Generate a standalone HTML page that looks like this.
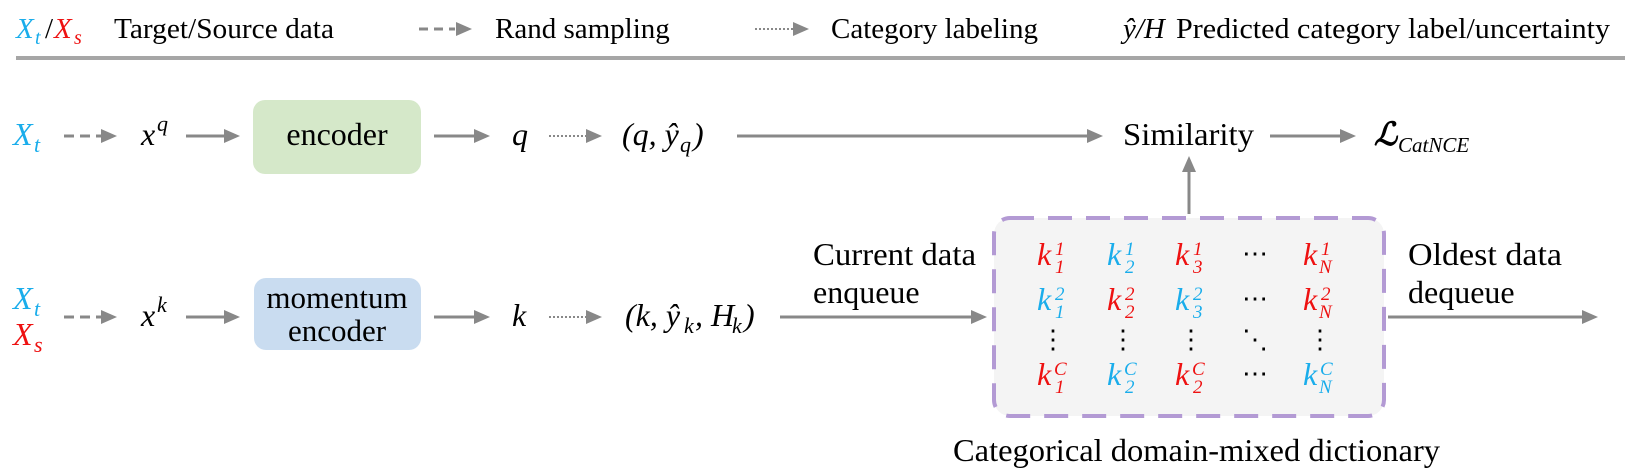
<!DOCTYPE html>
<html><head><meta charset="utf-8"><style>
html,body{margin:0;padding:0;background:#fff;}
svg{display:block;}
text{font-family:"Liberation Serif",serif;fill:#000;}
.m{font-style:italic;}
.b{fill:#1aadeb;}
.r{fill:#ee1111;}
</style></head><body>
<svg width="1630" height="474" viewBox="0 0 1630 474" xmlns="http://www.w3.org/2000/svg">
<!-- legend -->
<text x="16" y="38" font-size="29" class="m b">X</text>
<text x="35" y="44" font-size="20" class="m b">t</text>
<text x="45" y="38" font-size="29">/</text>
<text x="54" y="38" font-size="29" class="m r">X</text>
<text x="74" y="44" font-size="20" class="m r">s</text>
<text x="114" y="38" font-size="29" textLength="220" lengthAdjust="spacingAndGlyphs">Target/Source data</text>
<line x1="419" y1="29" x2="455" y2="29" stroke="#888" stroke-width="3" stroke-dasharray="9,6"/>
<polygon points="456,22 472,29 456,36" fill="#888"/>
<text x="495" y="38" font-size="29">Rand sampling</text>
<line x1="755" y1="29" x2="793" y2="29" stroke="#888" stroke-width="2" stroke-dasharray="2,2"/>
<polygon points="793,22 809,29 793,36" fill="#888"/>
<text x="831" y="38" font-size="29" textLength="207" lengthAdjust="spacingAndGlyphs">Category labeling</text>
<text x="1123" y="38" font-size="29" class="m">ŷ/H</text>
<text x="1176" y="38" font-size="29" textLength="434" lengthAdjust="spacingAndGlyphs">Predicted category label/uncertainty</text>
<line x1="16" y1="58" x2="1625" y2="58" stroke="#a6a6a6" stroke-width="4"/>

<!-- row 1 -->
<text x="13" y="145" font-size="32" class="m b">X</text>
<text x="34" y="152" font-size="22" class="m b">t</text>
<line x1="64" y1="136" x2="101" y2="136" stroke="#888" stroke-width="3" stroke-dasharray="10,6"/>
<polygon points="101,129 117,136 101,143" fill="#888"/>
<text x="141" y="145" font-size="32" class="m">x</text>
<text x="157" y="131" font-size="22" class="m">q</text>
<line x1="186" y1="136" x2="225" y2="136" stroke="#888" stroke-width="3"/>
<polygon points="224,129 240,136 224,143" fill="#888"/>
<rect x="253" y="100" width="168" height="74" rx="12" fill="#d5e8c9"/>
<text x="337" y="145" font-size="32" text-anchor="middle">encoder</text>
<line x1="434" y1="136" x2="474" y2="136" stroke="#888" stroke-width="3"/>
<polygon points="474,129 490,136 474,143" fill="#888"/>
<text x="512" y="145" font-size="32" class="m">q</text>
<line x1="549" y1="136" x2="587" y2="136" stroke="#888" stroke-width="2" stroke-dasharray="2,2"/>
<polygon points="586,129 602,136 586,143" fill="#888"/>
<text x="622" y="145" font-size="32" class="m">(q, ŷ</text>
<text x="680" y="152" font-size="22" class="m">q</text>
<text x="693" y="145" font-size="32" class="m">)</text>
<line x1="737" y1="136" x2="1089" y2="136" stroke="#888" stroke-width="3"/>
<polygon points="1087,129 1103,136 1087,143" fill="#888"/>
<text x="1123" y="145" font-size="32" textLength="131" lengthAdjust="spacingAndGlyphs">Similarity</text>
<line x1="1270" y1="136" x2="1342" y2="136" stroke="#888" stroke-width="3"/>
<polygon points="1340,129 1356,136 1340,143" fill="#888"/>
<text x="1374" y="145" font-size="32" font-weight="bold" class="m">ℒ</text>
<text x="1398" y="152" font-size="21" class="m">CatNCE</text>
<line x1="1189" y1="214" x2="1189" y2="170" stroke="#888" stroke-width="3"/>
<polygon points="1182,172 1189,156 1196,172" fill="#888"/>

<!-- row 2 -->
<text x="13" y="309" font-size="32" class="m b">X</text>
<text x="34" y="316" font-size="22" class="m b">t</text>
<text x="13" y="345" font-size="32" class="m r">X</text>
<text x="34" y="352" font-size="22" class="m r">s</text>
<line x1="64" y1="317" x2="101" y2="317" stroke="#888" stroke-width="3" stroke-dasharray="10,6"/>
<polygon points="101,310 117,317 101,324" fill="#888"/>
<text x="141" y="326" font-size="32" class="m">x</text>
<text x="157" y="312" font-size="22" class="m">k</text>
<line x1="186" y1="317" x2="225" y2="317" stroke="#888" stroke-width="3"/>
<polygon points="224,310 240,317 224,324" fill="#888"/>
<rect x="254" y="278" width="167" height="72" rx="12" fill="#c9dcf0"/>
<text x="337" y="308" font-size="31" text-anchor="middle">momentum</text>
<text x="337" y="341" font-size="31" text-anchor="middle">encoder</text>
<line x1="434" y1="317" x2="474" y2="317" stroke="#888" stroke-width="3"/>
<polygon points="474,310 490,317 474,324" fill="#888"/>
<text x="512" y="326" font-size="32" class="m">k</text>
<line x1="549" y1="317" x2="587" y2="317" stroke="#888" stroke-width="2" stroke-dasharray="2,2"/>
<polygon points="586,310 602,317 586,324" fill="#888"/>
<text x="625" y="326" font-size="32" class="m">(k, ŷ</text>
<text x="684" y="333" font-size="22" class="m">k</text>
<text x="695" y="326" font-size="32" class="m">, H</text>
<text x="732" y="333" font-size="22" class="m">k</text>
<text x="744" y="326" font-size="32" class="m">)</text>
<line x1="780" y1="317" x2="972" y2="317" stroke="#888" stroke-width="3"/>
<polygon points="971,310 987,317 971,324" fill="#888"/>
<text x="813" y="265" font-size="32" textLength="163" lengthAdjust="spacingAndGlyphs">Current data</text>
<text x="813" y="303" font-size="32">enqueue</text>

<rect x="994" y="218" width="390" height="198" rx="16" fill="#f4f4f4" stroke="#b39ad4" stroke-width="4" stroke-dasharray="24,14"/>
<g class="m">
<text x="1037" y="265" font-size="32" class="r">k</text><text x="1055" y="255" font-size="19" class="r">1</text><text x="1055" y="273" font-size="19" class="r">1</text>
<text x="1107" y="265" font-size="32" class="b">k</text><text x="1125" y="255" font-size="19" class="b">1</text><text x="1125" y="273" font-size="19" class="b">2</text>
<text x="1175" y="265" font-size="32" class="r">k</text><text x="1193" y="255" font-size="19" class="r">1</text><text x="1193" y="273" font-size="19" class="r">3</text>
<text x="1303" y="265" font-size="32" class="r">k</text><text x="1321" y="255" font-size="19" class="r">1</text><text x="1319" y="273" font-size="19" class="r">N</text>
<text x="1037" y="310" font-size="32" class="b">k</text><text x="1055" y="300" font-size="19" class="b">2</text><text x="1055" y="318" font-size="19" class="b">1</text>
<text x="1107" y="310" font-size="32" class="r">k</text><text x="1125" y="300" font-size="19" class="r">2</text><text x="1125" y="318" font-size="19" class="r">2</text>
<text x="1175" y="310" font-size="32" class="b">k</text><text x="1193" y="300" font-size="19" class="b">2</text><text x="1193" y="318" font-size="19" class="b">3</text>
<text x="1303" y="310" font-size="32" class="r">k</text><text x="1321" y="300" font-size="19" class="r">2</text><text x="1319" y="318" font-size="19" class="r">N</text>
<text x="1037" y="385" font-size="32" class="r">k</text><text x="1054" y="375" font-size="19" class="r">C</text><text x="1055" y="393" font-size="19" class="r">1</text>
<text x="1107" y="385" font-size="32" class="b">k</text><text x="1124" y="375" font-size="19" class="b">C</text><text x="1125" y="393" font-size="19" class="b">2</text>
<text x="1175" y="385" font-size="32" class="r">k</text><text x="1192" y="375" font-size="19" class="r">C</text><text x="1193" y="393" font-size="19" class="r">2</text>
<text x="1303" y="385" font-size="32" class="b">k</text><text x="1320" y="375" font-size="19" class="b">C</text><text x="1319" y="393" font-size="19" class="b">N</text>
</g>
<g font-size="26" text-anchor="middle">
<text x="1255" y="262">⋯</text><text x="1255" y="307">⋯</text><text x="1255" y="382">⋯</text>
<text x="1053" y="348">⋮</text><text x="1123" y="348">⋮</text><text x="1191" y="348">⋮</text><text x="1320" y="348">⋮</text><text x="1255" y="348">⋱</text>
</g>

<text x="1408" y="265" font-size="32" textLength="154" lengthAdjust="spacingAndGlyphs">Oldest data</text>
<text x="1408" y="303" font-size="32">dequeue</text>
<line x1="1388" y1="317" x2="1584" y2="317" stroke="#888" stroke-width="3"/>
<polygon points="1582,310 1598,317 1582,324" fill="#888"/>
<text x="953" y="461" font-size="32" textLength="487" lengthAdjust="spacingAndGlyphs">Categorical domain-mixed dictionary</text>
</svg>
</body></html>
